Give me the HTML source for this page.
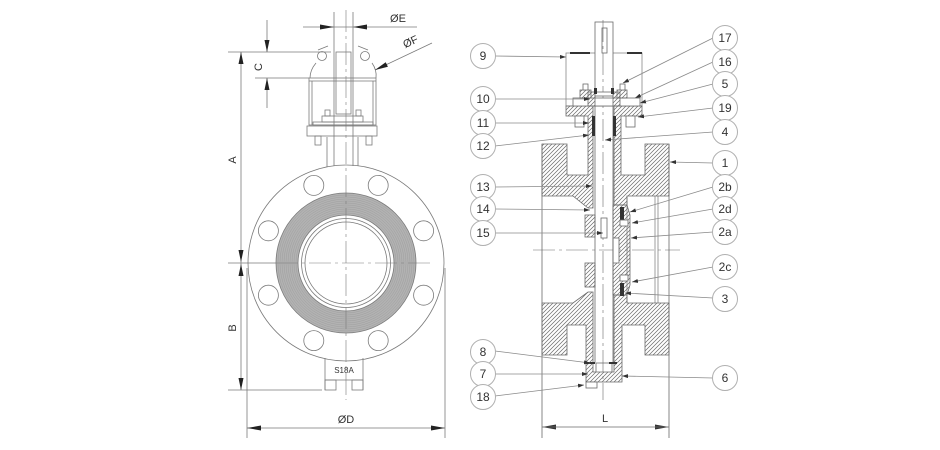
<!DOCTYPE html>
<html><head><meta charset="utf-8"><style>
html,body{margin:0;padding:0;background:#fff;overflow:hidden}
svg{display:block}
text{font-family:"Liberation Sans",sans-serif;fill:#333}
</style></head><body>
<svg width="940" height="450" viewBox="0 0 940 450" xmlns="http://www.w3.org/2000/svg">
<defs>
<pattern id="h" patternUnits="userSpaceOnUse" width="4" height="4"><path d="M-1,1 l2,-2 M0,4 l4,-4 M3,5 l2,-2" stroke="#6a6a6a" stroke-width="0.7"/></pattern>
<marker id="m" markerWidth="6" markerHeight="4" refX="6" refY="2" orient="auto" markerUnits="userSpaceOnUse"><path d="M0,0 L6,2 L0,4z" fill="#333"/></marker>
</defs>
<rect width="940" height="450" fill="#fff"/>

<!-- ================= LEFT VIEW ================= -->
<g stroke="#7a7a7a" stroke-width="0.8" fill="none">
  <circle cx="346" cy="263" r="98"/>
  <g>
    <circle cx="313.8" cy="185.4" r="10"/><circle cx="378.2" cy="185.4" r="10"/>
    <circle cx="313.8" cy="340.6" r="10"/><circle cx="378.2" cy="340.6" r="10"/>
    <circle cx="268.4" cy="230.8" r="10"/><circle cx="423.6" cy="230.8" r="10"/>
    <circle cx="268.4" cy="295.2" r="10"/><circle cx="423.6" cy="295.2" r="10"/>
  </g>
  <circle cx="346" cy="263" r="59" stroke="#b2b2b2" stroke-width="22"/>
  <g stroke="#999" stroke-width="0.4">
    <circle cx="346" cy="263" r="50"/><circle cx="346" cy="263" r="52"/><circle cx="346" cy="263" r="54"/>
    <circle cx="346" cy="263" r="56"/><circle cx="346" cy="263" r="58"/><circle cx="346" cy="263" r="60"/>
    <circle cx="346" cy="263" r="62"/><circle cx="346" cy="263" r="64"/><circle cx="346" cy="263" r="66"/>
    <circle cx="346" cy="263" r="68"/>
  </g>
  <circle cx="346" cy="263" r="70"/>
  <circle cx="346" cy="263" r="48" fill="#fff"/>
  <circle cx="346" cy="263" r="44.5"/>
  <circle cx="346" cy="263" r="41"/>

  <path d="M228,263 H276" />
  <path d="M276,263 H430" stroke-dasharray="22,4,3,4" stroke-width="0.6"/>
  <path d="M346,10 V400" stroke-dasharray="22,4,3,4" stroke-width="0.6"/>

  <path d="M327,137 V167 M358,137 V166"/>
  <rect x="307" y="126" width="70" height="10"/>
  <rect x="315" y="136" width="6" height="9"/><rect x="366" y="136" width="6" height="9"/>
  <rect x="309" y="78" width="67" height="47"/>
  <path d="M309,81 H376 M312,81 V125 M373,81 V125"/>
  <rect x="313" y="122" width="60" height="3"/>
  <rect x="322" y="116" width="41" height="6"/>
  <rect x="325" y="110" width="5" height="6"/><rect x="356" y="110" width="5" height="6"/>
  <path d="M334,12 V166 M353,12 V166"/>
  <rect x="336" y="52" width="15" height="62"/>
  <circle cx="322" cy="56" r="4.5"/><circle cx="365" cy="56" r="4.5"/>
  <path d="M316,63 Q310,70 310,78 M372,63 Q377,70 376,78"/>
  <path d="M318,50 L328,46 M368,50 L358,46"/>

  <path d="M241,52 V390"/>
  <path d="M228,52 H331"/>
  <path d="M228,390 H322"/>
  <path d="M267,20 V52 M267,78 V108 M255,78 H309"/>
  <path d="M303,27 H417"/>
  <path d="M432,43 L375,70"/>
  <path d="M325,358 V390 M363,358 V390 M325,380 H363"/>
  <rect x="325" y="380" width="11" height="10"/><rect x="352" y="380" width="11" height="10"/>
  <path d="M247,268 V438 M445,268 V438 M247,428 H445"/>
</g>
<g fill="#222">
  <polygon points="241,52 238.5,64 243.5,64"/>
  <polygon points="241,262 238.5,250 243.5,250"/>
  <polygon points="241,264 238.5,276 243.5,276"/>
  <polygon points="241,390 238.5,378 243.5,378"/>
  <polygon points="267,52 264.5,40 269.5,40"/>
  <polygon points="267,78 264.5,90 269.5,90"/>
  <polygon points="334,27 320,24.5 320,29.5"/>
  <polygon points="353,27 367,24.5 367,29.5"/>
  <polygon points="375,70 387.9,66.7 385.7,62.2"/>
  <polygon points="247,428 261,425.5 261,430.5"/>
  <polygon points="445,428 431,425.5 431,430.5"/>
</g>
<text x="398" y="22" font-size="11" text-anchor="middle">ØE</text>
<text x="0" y="0" font-size="11" text-anchor="middle" transform="translate(412,45) rotate(-25)">ØF</text>
<text x="0" y="0" font-size="11" text-anchor="middle" transform="translate(262,67) rotate(-90)">C</text>
<text x="0" y="0" font-size="11" text-anchor="middle" transform="translate(236,160) rotate(-90)">A</text>
<text x="0" y="0" font-size="11" text-anchor="middle" transform="translate(236,328) rotate(-90)">B</text>
<text x="344" y="373" font-size="8" text-anchor="middle">S18A</text>
<text x="346" y="423" font-size="11" text-anchor="middle">ØD</text>

<!-- ================= RIGHT VIEW ================= -->
<g stroke="#6a6a6a" stroke-width="0.8">
  <path d="M542,144 V438 M669,144 V438" fill="none"/>
  <path d="M627,196 V303 M655,196 V303 M658,196 V303" fill="none" stroke="#888"/>
  <path d="M533,250 H680" fill="none" stroke-dasharray="22,4,3,4" stroke-width="0.6"/>

  <rect x="566" y="53" width="76" height="53" fill="none" stroke="#888"/>
  <path d="M570,53 H590 M627,53 H642" stroke="#333" stroke-width="2"/>

  <polygon points="566,106 593,106 593,208 588,208 573,196 542,196 542,144 567,144 567,175 588,175 588,116 566,116" fill="url(#h)"/>
  <polygon points="614,106 642,106 642,116 621,116 621,175 645,175 645,144 669,144 669,196 627,196 627,205 614,205" fill="url(#h)"/>
  <polygon points="613,205 627,205 630,215 630,285 627,295 613,295" fill="url(#h)"/>
  <rect x="613" y="238" width="6" height="25" fill="#fff"/>
  <rect x="585" y="215" width="10" height="22" fill="url(#h)"/>
  <rect x="585" y="263" width="10" height="24" fill="url(#h)"/>
  <polygon points="593,292 588,292 573,303 542,303 542,355 567,355 567,325 586,325 586,382 622,382 622,325 645,325 645,355 669,355 669,303 627,303 627,295 614,295 614,372 593,372" fill="url(#h)"/>
  <rect x="586" y="382" width="11" height="6" fill="#fff"/>

  <rect x="595" y="22" width="18" height="84" fill="#fff"/>
  <path d="M595,106 V363 M613,106 V363" fill="none"/>
  <rect x="602" y="28" width="5" height="25" fill="#fff"/>
  <path d="M603,20 V400" fill="none" stroke-dasharray="22,4,3,4" stroke-width="0.6"/>
  <rect x="601" y="218" width="6" height="20" fill="#fff"/>
  <path d="M596,363 H612 M596,363 V372 M612,363 V372" fill="none"/>

  <rect x="573" y="98" width="67" height="8" fill="#fff"/>
  <rect x="588" y="92" width="7" height="14" fill="url(#h)"/>
  <rect x="613" y="92" width="7" height="14" fill="url(#h)"/>
  <rect x="595" y="92" width="18" height="4" fill="#fff"/>
  <rect x="580" y="90" width="11" height="8" fill="url(#h)"/>
  <rect x="583" y="84" width="5" height="6" fill="#fff"/>
  <rect x="617" y="90" width="10" height="8" fill="url(#h)"/>
  <rect x="620" y="84" width="5" height="6" fill="#fff"/>
  <rect x="575" y="116" width="9" height="11" fill="#fff"/>
  <rect x="626" y="116" width="9" height="11" fill="#fff"/>
</g>
<g fill="#333">
  <rect x="592" y="116" width="3" height="20"/>
  <rect x="613" y="116" width="3" height="20"/>
  <rect x="594" y="88" width="3" height="6"/><rect x="611" y="88" width="3" height="6"/>
  <rect x="620" y="207" width="4" height="13"/>
  <rect x="620" y="283" width="4" height="13"/>
  <rect x="586" y="362" width="9" height="2"/><rect x="609" y="362" width="8" height="2"/>
  <polygon points="542,427 556,424.5 556,429.5"/>
  <polygon points="669,427 655,424.5 655,429.5"/>
</g>
<rect x="620" y="220" width="8" height="6" fill="#fff" stroke="#6a6a6a" stroke-width="0.8"/>
<rect x="620" y="275" width="8" height="6" fill="#fff" stroke="#6a6a6a" stroke-width="0.8"/>
<path d="M542,427 H669" stroke="#6a6a6a" stroke-width="0.8"/>
<text x="605" y="422" font-size="11" text-anchor="middle">L</text>

<g stroke="#8a8a8a" stroke-width="0.8" fill="none" marker-end="url(#m)">
  <path d="M495,56 L566,57"/>
  <path d="M495,99 L590,99"/>
  <path d="M495,123 L589,123"/>
  <path d="M495,146 L589,135"/>
  <path d="M495,187 L592,186"/>
  <path d="M495,209 L590,210"/>
  <path d="M495,233 L603,233"/>
  <path d="M495,351 L590,363"/>
  <path d="M495,374 L588,374"/>
  <path d="M495,396 L584,385"/>
  <path d="M713,38 L623,83"/>
  <path d="M713,62 L635,98"/>
  <path d="M713,84 L640,103"/>
  <path d="M713,108 L638,117"/>
  <path d="M713,132 L605,140"/>
  <path d="M713,163 L670,162"/>
  <path d="M713,187 L630,212"/>
  <path d="M713,209 L632,223"/>
  <path d="M713,232 L631,238"/>
  <path d="M713,267 L632,282"/>
  <path d="M713,298 L625,293"/>
  <path d="M713,378 L622,376"/>
</g>

<g stroke="#b0b0b0" stroke-width="1" fill="#fff">
  <circle cx="483" cy="56" r="12.5"/><circle cx="483" cy="99" r="12.5"/><circle cx="483" cy="123" r="12.5"/>
  <circle cx="483" cy="146" r="12.5"/><circle cx="483" cy="187" r="12.5"/><circle cx="483" cy="209" r="12.5"/>
  <circle cx="483" cy="233" r="12.5"/><circle cx="483" cy="352" r="12.5"/><circle cx="483" cy="374" r="12.5"/>
  <circle cx="483" cy="397" r="12.5"/>
  <circle cx="725" cy="38" r="12.5"/><circle cx="725" cy="62" r="12.5"/><circle cx="725" cy="84" r="12.5"/>
  <circle cx="725" cy="108" r="12.5"/><circle cx="725" cy="132" r="12.5"/><circle cx="725" cy="163" r="12.5"/>
  <circle cx="725" cy="187" r="12.5"/><circle cx="725" cy="209" r="12.5"/><circle cx="725" cy="232" r="12.5"/>
  <circle cx="725" cy="267" r="12.5"/><circle cx="725" cy="299" r="12.5"/><circle cx="725" cy="378" r="12.5"/>
</g>
<g font-size="12" text-anchor="middle">
  <text x="483" y="60">9</text><text x="483" y="103">10</text><text x="483" y="127">11</text>
  <text x="483" y="150">12</text><text x="483" y="191">13</text><text x="483" y="213">14</text>
  <text x="483" y="237">15</text><text x="483" y="356">8</text><text x="483" y="378">7</text>
  <text x="483" y="401">18</text>
  <text x="725" y="42">17</text><text x="725" y="66">16</text><text x="725" y="88">5</text>
  <text x="725" y="112">19</text><text x="725" y="136">4</text><text x="725" y="167">1</text>
  <text x="725" y="191">2b</text><text x="725" y="213">2d</text><text x="725" y="236">2a</text>
  <text x="725" y="271">2c</text><text x="725" y="303">3</text><text x="725" y="382">6</text>
</g>
</svg>
</body></html>
